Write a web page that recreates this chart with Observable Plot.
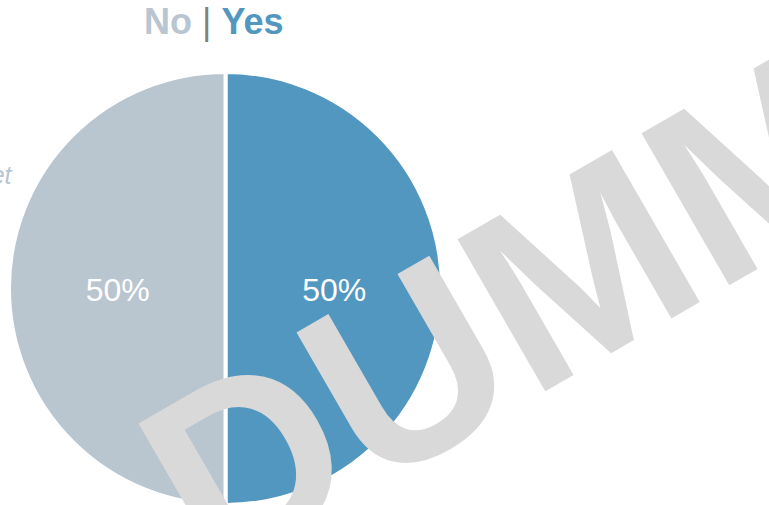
<!DOCTYPE html>
<html>
<head>
<meta charset="utf-8">
<script src="https://cdn.jsdelivr.net/npm/d3@7"></script>
<script src="https://cdn.jsdelivr.net/npm/@observablehq/plot@0.6"></script>
<style>
  html, body { margin: 0; padding: 0; background: #fff; }
  body { width: 769px; height: 505px; overflow: hidden; font-family: "Liberation Sans", Arial, sans-serif; }
  #title { position: relative; height: 50px; width: 769px; }
  #title .t { position: absolute; left: 144px; top: 0px; font-size: 36px; line-height: 44px; white-space: pre; }
  #title .no { color: #b9c5cf; font-weight: bold; }
  #title .sep { color: #808080; font-weight: normal; }
  #title .yes { color: #5297c0; font-weight: bold; }
</style>
</head>
<body>
<div id="title"><div class="t"><span class="no">No</span> <span class="sep">|</span> <span class="yes">Yes</span></div></div>
<div id="chart"></div>
<script>
// ---- data ----
const categories = ["Yes", "No"];
const values = [50, 50];
const sliceColors = ["#5297c0", "#b9c5cf"];
const pctLabels = ["50%", "50%"];
const sideNote = "et";
const watermark = "DUMMY";

const W = 769, H = 455;
const cx = 225.5, cy = 238.5, R = 216.5;

const data = categories.map((c, i) => ({category: c, value: values[i], label: pctLabels[i]}));
const arcs = d3.pie().sort(null).value(d => d.value)(data);
const arcGen = d3.arc().innerRadius(0).outerRadius(R);
arcs.forEach(a => { const c = arcGen.centroid(a); a.lx = cx + c[0]; a.ly = cy + c[1]; });

const color = Plot.scale({color: {domain: categories, range: sliceColors}});

function pieMark() {
  const g = d3.create("svg:g").attr("transform", `translate(${cx},${cy})`);
  g.selectAll("path").data(arcs).join("path")
    .attr("d", arcGen)
    .attr("fill", d => color.apply(d.data.category))
    .attr("stroke", "#fff")
    .attr("stroke-width", 4)
    .attr("stroke-linejoin", "round");
  return g.node();
}

const plot = Plot.plot({
  width: W,
  height: H,
  margin: 0,
  x: {type: "identity", axis: null},
  y: {type: "identity", axis: null},
  style: {fontFamily: "'Liberation Sans', Arial, sans-serif", background: "transparent"},
  marks: [
    pieMark,
    Plot.text(arcs, {x: "lx", y: "ly", dy: 2, text: d => d.data.label, fill: "#fff", fontSize: 32, textAnchor: "middle", lineAnchor: "middle"}),
    Plot.text([sideNote], {x: () => 11, y: () => 133, text: d => d, fill: "#b9c5cf", fontSize: 25, fontStyle: "italic", textAnchor: "end", lineAnchor: "bottom"})
  ]
});

const svg = d3.select(plot);
svg.append("text")
  .attr("transform", "translate(211.5,534) rotate(-30)")
  .attr("font-family", "'Liberation Sans', Arial, sans-serif")
  .attr("font-weight", "bold")
  .attr("font-size", 255)
  .attr("fill", "#d9d9d9")
  .attr("text-anchor", "start")
  .text(watermark);

document.getElementById("chart").appendChild(plot);
</script>
</body>
</html>
